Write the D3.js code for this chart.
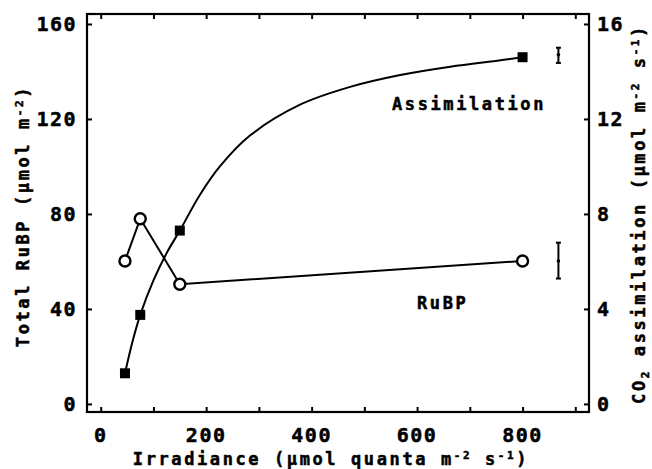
<!DOCTYPE html>
<html lang="en">
<head>
<meta charset="UTF-8">
<title>RuBP and assimilation vs irradiance</title>
<script src="https://cdnjs.cloudflare.com/ajax/libs/d3/7.8.5/d3.min.js"></script>
<style>
  body { margin: 0; background: #fff; }
  svg { display: block; }
  text { font-family: "DejaVu Sans Mono", monospace; font-weight: bold; fill: #000; stroke: #000; stroke-width: 0.5px; }
</style>
</head>
<body>
<svg id="chart" width="652" height="469"></svg>
<script>
// irradiance levels (umol quanta m-2 s-1)
const irradiance = [46, 75, 150, 800];
// total RuBP (umol m-2), left axis
const rubp = [60.2, 78, 50.4, 60.2];
// CO2 assimilation (umol m-2 s-1), right axis
const assim = [1.29, 3.75, 7.3, 14.6];
// fitted assimilation curve
const fitIrr   = [46, 60, 75, 100, 125, 150, 188, 226, 283, 378, 473, 568, 663, 758, 800];
const fitAssim = [1.29, 2.6, 3.75, 5.2, 6.35, 7.3, 8.8, 10.0, 11.3, 12.6, 13.35, 13.85, 14.2, 14.47, 14.6];
// representative error bars
const errRubp  = { x: 868, mean: 60.2, lo: 52.8, hi: 67.9 };
const errAssim = { x: 868, mean: 14.7, lo: 14.36, hi: 15.0 };

const xTicks = [0, 100, 200, 300, 400, 500, 600, 700, 800, 900];
const xLabels = [0, 200, 400, 600, 800];
const yLeftTicks = [0, 40, 80, 120, 160];
const yRightTicks = [0, 4, 8, 12, 16];

const svg = d3.select("#chart");
const L = 87, R = 589, T = 14, B = 412;

const x = d3.scaleLinear().domain([-26, 926]).range([L, R]);
const yL = d3.scaleLinear().domain([-3.4, 164.2]).range([B, T]);
const yR = d3.scaleLinear().domain([-0.34, 16.42]).range([B, T]);

// frame
svg.append("rect")
  .attr("x", L).attr("y", T).attr("width", R - L).attr("height", B - T)
  .attr("fill", "none").attr("stroke", "#000").attr("stroke-width", 2.2);

// inward ticks
const tk = 5;
svg.append("g").call(d3.axisTop(x).tickValues(xTicks).tickSize(tk).tickFormat(""))
  .attr("transform", `translate(0,${B})`);
svg.append("g").call(d3.axisBottom(x).tickValues(xTicks).tickSize(tk).tickFormat(""))
  .attr("transform", `translate(0,${T})`);
svg.append("g").call(d3.axisRight(yL).tickValues(yLeftTicks).tickSize(tk).tickFormat(""))
  .attr("transform", `translate(${L},0)`);
svg.append("g").call(d3.axisLeft(yR).tickValues(yRightTicks).tickSize(tk).tickFormat(""))
  .attr("transform", `translate(${R},0)`);
svg.selectAll(".domain").remove();
svg.selectAll(".tick line").attr("stroke", "#000").attr("stroke-width", 2);

// tick labels
const fs = 20;
svg.append("g").selectAll("text").data(xLabels).join("text")
  .attr("x", d => x(d)).attr("y", 435).attr("dy", "0.35em")
  .attr("text-anchor", "middle").attr("font-size", fs).attr("letter-spacing", 1.5)
  .text(d => d);
svg.append("g").selectAll("text").data(yLeftTicks).join("text")
  .attr("x", 77).attr("y", d => yL(d)).attr("dy", "0.35em")
  .attr("text-anchor", "end").attr("font-size", fs).attr("letter-spacing", 1.5)
  .text(d => d);
svg.append("g").selectAll("text").data(yRightTicks).join("text")
  .attr("x", 597).attr("y", d => yR(d)).attr("dy", "0.35em")
  .attr("text-anchor", "start").attr("font-size", fs).attr("letter-spacing", 1.5)
  .text(d => d);

// axis titles: parts are [text, shift] with shift "super", "sub" or null
const tfs = 17, tls = 2.6;
function title(t, parts) {
  parts.forEach(([s, shift]) => {
    const sp = t.append("tspan").text(s);
    if (shift) sp.attr("font-size", 11).attr("baseline-shift", shift === "super" ? 6 : -4);
  });
}
const xt = svg.append("text").attr("x", 331).attr("y", 459).attr("dy", "0.35em")
  .attr("text-anchor", "middle").attr("font-size", tfs).attr("letter-spacing", tls);
title(xt, [["Irradiance (μmol quanta m"], ["-2", "super"], [" s"], ["-1", "super"], [")"]]);

const lt = svg.append("text").attr("transform", "translate(23,216) rotate(-90)").attr("dy", "0.35em")
  .attr("text-anchor", "middle").attr("font-size", tfs).attr("letter-spacing", tls);
title(lt, [["Total RuBP (μmol m"], ["-2", "super"], [")"]]);

const rt = svg.append("text").attr("transform", "translate(639,214) rotate(-90)").attr("dy", "0.35em")
  .attr("text-anchor", "middle").attr("font-size", tfs).attr("letter-spacing", tls);
title(rt, [["CO"], ["2", "sub"], [" assimilation (μmol m"], ["-2", "super"], [" s"], ["-1", "super"], [")"]]);

// fitted assimilation curve
const fit = fitIrr.map((v, i) => ({ x: v, y: fitAssim[i] }));
svg.append("path").datum(fit)
  .attr("fill", "none").attr("stroke", "#000").attr("stroke-width", 2)
  .attr("d", d3.line().x(d => x(d.x)).y(d => yR(d.y)).curve(d3.curveCatmullRom));

// RuBP line
const rub = irradiance.map((v, i) => ({ x: v, y: rubp[i] }));
svg.append("path").datum(rub)
  .attr("fill", "none").attr("stroke", "#000").attr("stroke-width", 2)
  .attr("d", d3.line().x(d => x(d.x)).y(d => yL(d.y)));

// squares
const sq = 10;
svg.append("g").selectAll("rect").data(irradiance).join("rect")
  .attr("x", d => x(d) - sq / 2).attr("y", (d, i) => yR(assim[i]) - sq / 2)
  .attr("width", sq).attr("height", sq).attr("fill", "#000");

// circles
svg.append("g").selectAll("circle").data(rub).join("circle")
  .attr("cx", d => x(d.x)).attr("cy", d => yL(d.y)).attr("r", 5.5)
  .attr("fill", "#fff").attr("stroke", "#000").attr("stroke-width", 2.4);

// error bars
function errBar(e, y) {
  const g = svg.append("g").attr("stroke", "#000").attr("stroke-width", 2);
  g.append("line").attr("x1", x(e.x)).attr("x2", x(e.x)).attr("y1", y(e.lo)).attr("y2", y(e.hi));
  [e.lo, e.hi].forEach(v => g.append("line")
    .attr("x1", x(e.x) - 2.5).attr("x2", x(e.x) + 2.5).attr("y1", y(v)).attr("y2", y(v)));
  svg.append("circle").attr("cx", x(e.x)).attr("cy", y(e.mean)).attr("r", 1.8).attr("fill", "#000");
}
errBar(errRubp, yL);
errBar(errAssim, yR);

// series labels
svg.append("text").attr("x", 392).attr("y", 104).attr("dy", "0.35em")
  .attr("font-size", tfs).attr("letter-spacing", tls).text("Assimilation");
svg.append("text").attr("x", 417).attr("y", 303).attr("dy", "0.35em")
  .attr("font-size", tfs).attr("letter-spacing", tls).text("RuBP");
</script>
</body>
</html>
